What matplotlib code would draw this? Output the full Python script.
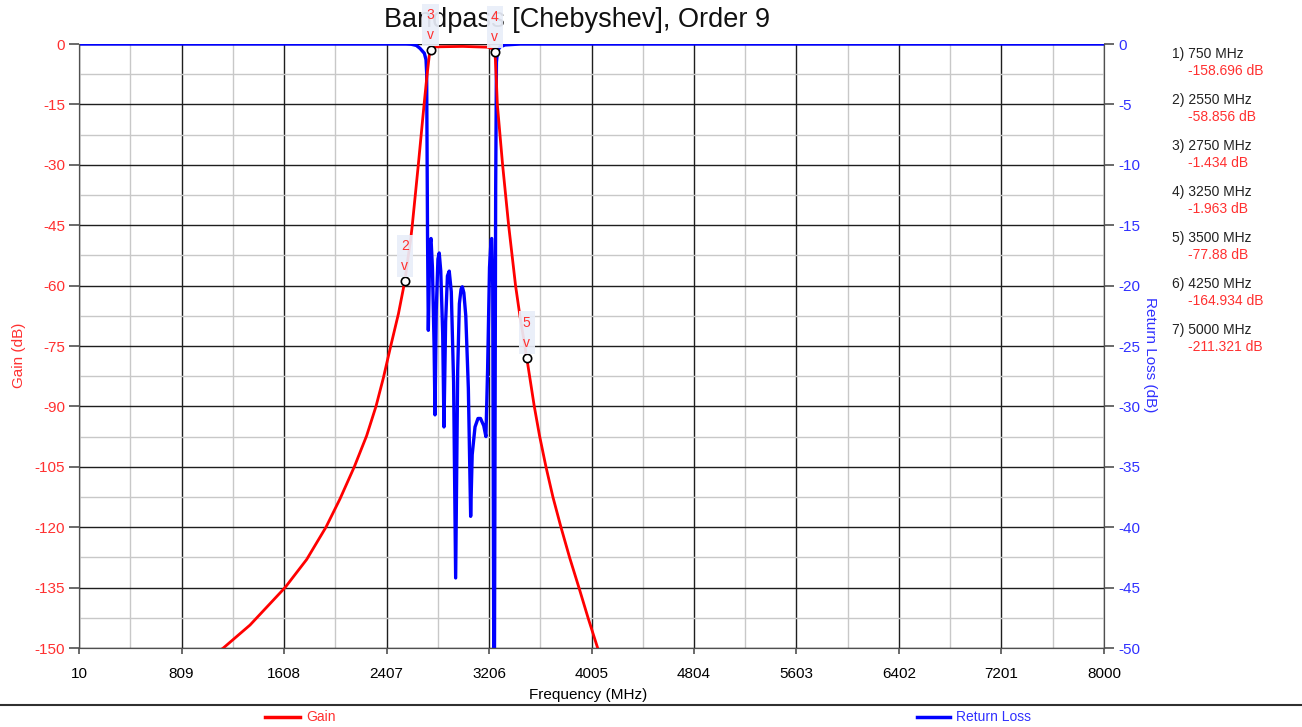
import matplotlib
matplotlib.use('Agg')
import matplotlib.pyplot as plt
from matplotlib.ticker import FixedLocator, MultipleLocator
from matplotlib.lines import Line2D

plt.rcParams['font.family'] = ['Liberation Sans', 'DejaVu Sans']
plt.rcParams['axes.unicode_minus'] = False

# gain curve (MHz, dB)
gain_freq = [750, 1135, 1343, 1616, 1785, 1935, 2044, 2156, 2252, 2325, 2382, 2440,
             2500, 2550, 2598, 2608, 2655, 2700, 2722, 2740, 2750, 2760, 2800, 3000,
             3200, 3240, 3250, 3256, 3262, 3271, 3312, 3359, 3413, 3446, 3500, 3559,
             3600, 3650, 3705, 3767, 3835, 3907, 3980, 4053, 4250, 5000]
gain_db = [-158.696, -150, -144.3, -135, -128, -120, -113, -105, -97.3, -90, -83, -75,
           -67, -58.856, -47.8, -45, -30, -15, -8, -3, -1.434, -0.9, -0.7, -0.6,
           -0.8, -1.3, -1.963, -4, -8, -15, -30, -45, -60, -67.3, -77.88, -90,
           -97.3, -105, -112.6, -120, -127.6, -135, -142.7, -150, -164.934, -211.321]

# return loss curve (MHz, dB)
rl_freq = [10, 2560, 2600, 2640, 2668, 2702, 2715, 2720, 2727, 2733,
           2745, 2754, 2765, 2778, 2785,
           2795, 2808, 2818, 2830, 2845, 2855,
           2868, 2882, 2896, 2912, 2930, 2946,
           2962, 2975, 2988, 2998, 3010, 3025, 3045, 3063,
           3075, 3097, 3120, 3140, 3165, 3182,
           3195, 3210, 3222, 3227, 3235, 3246,
           3258, 3264, 3272, 3290, 3330, 3450, 8000]
rl_db = [0, 0, -0.02, -0.12, -0.36, -0.77, -1.3, -2.4, -16.2, -23.7,
         -16.6, -16.1, -18.5, -25, -30.7,
         -22, -17.8, -17.3, -18.8, -24, -31.7,
         -23, -19.2, -18.8, -20.5, -28, -44.2,
         -27, -21.5, -20.3, -20.1, -20.6, -22.5, -28.5, -39.1,
         -34, -31.7, -31.0, -31.0, -31.6, -32.5,
         -27, -18.5, -16.2, -16.1, -20, -62,
         -12, -1.5, -0.6, -0.25, -0.08, 0, 0]

marker_freq = [750, 2550, 2750, 3250, 3500, 4250, 5000]
marker_gain = [-158.696, -58.856, -1.434, -1.963, -77.88, -164.934, -211.321]

x_ticks = [10, 809, 1608, 2407, 3206, 4005, 4804, 5603, 6402, 7201, 8000]

red = '#ff0000'
blue = '#0000ff'
tick_red = '#ff3030'
tick_blue = '#3030ff'

fig = plt.figure(figsize=(13.02, 7.27), dpi=100)
ax = fig.add_axes([79 / 1302, 1 - 648 / 727, 1025 / 1302, 604 / 727])
ax2 = ax.twinx()

# ax2 sits below and carries background + grid, ax on top carries gain + markers
ax.set_zorder(ax2.get_zorder() + 1)
ax.patch.set_visible(False)
ax2.patch.set_facecolor('#ebf0fc')

ax.set_xlim(10, 8000)
ax.set_ylim(-150, 0)
ax2.set_ylim(-50, 0)

ax2.xaxis.set_visible(True)
ax2.xaxis.set_major_locator(FixedLocator(x_ticks))
ax2.xaxis.set_minor_locator(FixedLocator([t + 399.5 for t in x_ticks[:-1]]))
ax.yaxis.set_major_locator(MultipleLocator(15))
ax2.yaxis.set_major_locator(MultipleLocator(5))
ax2.yaxis.set_minor_locator(MultipleLocator(2.5))

ax2.grid(True, which='minor', color='#c8c8c8', lw=1)
ax2.grid(True, which='major', color='#1e1e1e', lw=1)
ax2.set_axisbelow(True)

ax2.plot(rl_freq, rl_db, color=blue, lw=2.4, solid_joinstyle='round')
ax.plot(gain_freq, gain_db, color=red, lw=2, solid_joinstyle='round')
ax.plot(marker_freq, marker_gain, 'o', ms=6, mfc='white', mec='black', mew=1.2)

for i in range(len(marker_freq)):
    ax.annotate('%d\nv' % (i + 1), xy=(marker_freq[i], marker_gain[i]),
                xytext=(0, 8), textcoords='offset pixels', ha='center', va='bottom',
                fontsize=10, color=tick_red, linespacing=1.55,
                bbox=dict(boxstyle='square,pad=0.3', fc='#e9eef9', ec='none', alpha=0.92))

for s in ['top']:
    ax.spines[s].set_visible(False)
    ax2.spines[s].set_visible(False)
for s in ['left', 'right', 'bottom']:
    ax.spines[s].set_color('#505050')
    ax2.spines[s].set_color('#505050')

ax.tick_params(axis='y', colors=tick_red, labelsize=11, length=7, width=1.2, pad=3)
ax.tick_params(axis='y', which='both', color='#505050')
ax2.tick_params(axis='y', colors=tick_blue, labelsize=11, length=7, width=1.2, pad=3)
ax2.tick_params(axis='y', which='both', color='#505050')
ax2.tick_params(axis='y', which='minor', length=0)
ax.tick_params(axis='x', labelsize=11, length=4, width=1.2, color='#505050', pad=10)
ax.tick_params(axis='x', which='minor', length=0)
ax2.tick_params(axis='x', which='both', length=0, labelbottom=False, labeltop=False)

ax.set_xlabel('Frequency (MHz)', fontsize=11)
ax.xaxis.set_label_coords(0.497, -0.067)
ax.set_ylabel('Gain (dB)', fontsize=11, color=tick_red)
ax.yaxis.set_label_coords(-0.052, 0.485)
ax2.set_ylabel('Return Loss (dB)', fontsize=11, color=tick_blue, rotation=-90, va='bottom')
ax2.yaxis.set_label_coords(1.038, 0.485)

fig.text(577 / 1302, 1 - 20 / 727, 'Bandpass [Chebyshev], Order 9', ha='center', va='center',
         fontsize=19.5, color='#111111', zorder=0)

# marker readout on the right
for i in range(len(marker_freq)):
    y = 1 - (54 + 46 * i) / 727
    fig.text(1172 / 1302, y, '%d) %d MHz' % (i + 1, marker_freq[i]), fontsize=10,
             color='#222222', va='center')
    fig.text(1188 / 1302, y - 17 / 727, '%g dB' % marker_gain[i], fontsize=10,
             color=tick_red, va='center')

# bottom legend
fig.add_artist(Line2D([0, 1], [1 - 705 / 727] * 2, color='#303030', lw=1.5))
fig.add_artist(Line2D([265 / 1302, 300 / 1302], [1 - 717 / 727] * 2, color=red, lw=2.5))
fig.text(306 / 1302, 1 - 717 / 727, 'Gain', color=tick_red, fontsize=10, va='center')
fig.add_artist(Line2D([917 / 1302, 950 / 1302], [1 - 717 / 727] * 2, color=blue, lw=2.5))
fig.text(956 / 1302, 1 - 717 / 727, 'Return Loss', color=tick_blue, fontsize=10, va='center')

fig.savefig('out.png', dpi=100)
